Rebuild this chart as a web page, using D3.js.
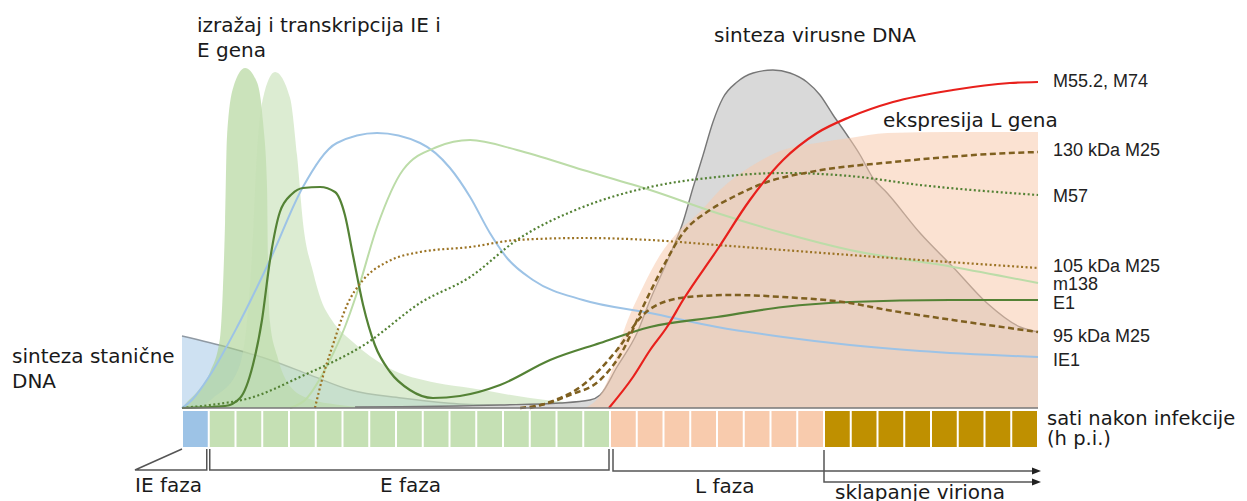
<!DOCTYPE html>
<html>
<head>
<meta charset="utf-8">
<script src="https://cdn.jsdelivr.net/npm/d3@7"></script>
<style>
  body { margin: 0; background: #fff; }
  .lbl { font-family: "DejaVu Sans", Verdana, sans-serif; font-size: 20px; fill: #1a1a1a; }
  .rlbl { font-family: "Liberation Sans", Arial, sans-serif; font-size: 18px; fill: #222; }
  .bracket { fill: none; stroke: #555; stroke-width: 1.5; }
</style>
</head>
<body>
<svg id="svg"></svg>
<script>

// DATA  (t = time slot on the bar, level = relative amount)

var cellDNA   = [[0,18],[1.8,15],[3.3,12],[4.8,8.2],[6.3,4.5],[8.2,2.5],[10,1.2],[12.6,0.5],[14.1,0.2]];
var iePeak    = [[0,0],[0.19,1.5],[0.56,4],[1.05,9],[1.42,17.5],[1.53,30],[1.61,46.5],[1.68,67.5],[1.91,80],
                 [2.36,85],[2.8,81.5],[3.03,71.5],[3.18,55],[3.21,38.25],[3.29,21.5],[3.55,13.25],[3.93,6.5],
                 [4.67,2.5],[5.9,0.75],[7.4,0]];
var ePeak     = [[0.67,0],[1.16,2.5],[2.06,9],[2.43,21.5],[2.62,38.25],[2.8,63.25],[3.03,77.5],[3.48,84],
                 [4.04,77.5],[4.3,63.25],[4.52,46.5],[4.9,34],[5.2,27],[5.6,22],[6.39,16.5],
                 [7.66,10.25],[9.53,6.25],[10.77,5],[13.01,2.5],[15.63,0.75],[17.5,0]];
var virusDNA  = [[6.47,0.25],[11.89,0.75],[14.13,1.25],[15.25,2],[15.63,3.25],[16.26,10.25],[17.01,18.75],
                 [17.5,27],[18.24,38.25],[18.73,46.5],[19.1,55],[19.48,63.25],[19.85,71.5],[20.22,77.5],
                 [20.75,81.5],[21.35,83.75],[22.09,84.5],[22.73,83.75],[23.36,81.5],[23.85,78.25],[24.34,73.25],
                 [24.86,68.25],[25.35,63.25],[25.83,57.5],[26.36,53.75],[27.59,43.75],[28.82,35.25],
                 [30.09,26.25],[31.33,20.25],[32,19]];
var lGenes    = [[15.07,0],[15.63,3.25],[16.07,9.5],[16.49,18.75],[17.23,30.25],[17.87,38.25],[18.5,43.75],
                 [19.36,49],[20.11,54.5],[21.23,60.25],[22.47,64.5],[23.74,66.25],[24.97,67.5],[26.36,68.75],
                 [28.71,69],[32,69]];

var ie1       = [[0,0],[0.37,2],[1.05,8.25],[2.06,20.25],[3.29,37],[4.52,55.25],[5.79,66.25],[7.29,68.75],
                 [8.9,66.25],[10.02,60],[10.77,52.75],[11.51,43.75],[12.15,37.5],[13.12,32],[14.99,27],
                 [17.5,23.75],[20,20.25],[22.47,17.75],[24.97,15.75],[27.59,14.25],[32,12.75]];
var m138      = [[4.04,0],[4.6,2],[5.53,12],[6.09,20.25],[6.54,28.75],[7.29,45.25],[8.26,59.5],[9.53,65.25],
                 [10.77,67],[12.52,64.5],[14.99,59.5],[17.5,54.5],[20,48.75],[22.47,43.75],[24.97,39.5],
                 [28.82,35.25],[32,31.25]];
var e1        = [[0,0],[1.61,0.5],[2.17,2.5],[2.65,10.75],[2.99,22],[3.29,37],[3.66,49],[4.11,53.5],[4.52,55],
                 [5.16,55.25],[5.72,54],[6.09,48.25],[6.39,38.25],[6.77,25.75],[7.21,15.75],[7.78,9],
                 [8.52,4.5],[9.38,2.5],[10.39,3],[11.89,5.75],[13.76,12],[15.63,16.25],[17.5,20.25],
                 [20,22.75],[22.47,25.25],[24.97,26.5],[28.71,27],[32,27]];
var m57       = [[0,0],[1.05,0.75],[2.54,2.5],[4.41,7.75],[6.92,16.25],[8.9,26.25],[10.77,32.75],[12.52,42],
                 [14.99,50.25],[17.5,55.25],[20,57.75],[22.47,58.75],[24.97,58],[27.59,55.75],[32,53.25]];
var m25_105   = [[4.97,0],[5.23,7],[5.64,15.75],[6.17,25.75],[6.77,32],[7.66,36.5],[8.9,39],[10.77,40.25],
                 [12.52,42],[14.99,42.5],[17.5,42],[20,40.75],[22.47,39.5],[24.97,38.25],[27.59,37],[32,35]];
var m25_130   = [[12.64,0],[13.57,1],[14.5,3.25],[15.63,7],[16.49,14.5],[17.23,25.25],[17.98,35.25],
                 [18.73,43.75],[19.74,49.5],[20.6,52.75],[21.87,56.5],[23.48,59],[26.58,61.5],[30.95,63.75],[32,64]];
var m25_95    = [[13.01,0],[13.76,1.5],[14.99,5.75],[16.26,14.5],[17.23,23.25],[18.13,26.75],[19.36,28],
                 [20.6,28.25],[22.47,27.75],[24.97,26.25],[26.36,24.5],[28.82,22],[32,19]];
var m55       = [[15.96,0],[16.86,7.75],[17.5,14.5],[18.13,20.25],[18.73,27],[20,39.5],[21.23,52],[22.47,62],
                 [23.74,68.75],[24.97,72.75],[26.58,76.5],[28.82,79.5],[30.95,81.25],[32,81.5]];

var phaseNames  = ["IE faza", "E faza", "L faza", "sklapanje viriona"];
var phaseCells  = [1, 15, 8, 8];
var phaseColors = ["#9dc3e6", "#c5e0b4", "#f8cbad", "#bf9000"];

var endLabels = ["M55.2, M74", "130 kDa M25", "M57", "105 kDa M25", "m138", "E1", "95 kDa M25", "IE1"];

// SCALES

svg = d3.select("#svg").attr("width", 1247).attr("height", 501);

var x = d3.scaleLinear().domain([0, 32]).range([182, 1038]);
var y = d3.scaleLinear().domain([0, 100]).range([408, 8]);

var area = d3.area().curve(d3.curveMonotoneX)
          .x(d => x(d[0])).y0(y(0)).y1(d => y(d[1]));
var line = d3.line().curve(d3.curveMonotoneX)
          .x(d => x(d[0])).y(d => y(d[1]));

// SHADED PHASES

var areas = [
  {data: cellDNA,  fill: "#bdd7ee", op: 0.75, stroke: "#8f99a3"},
  {data: iePeak,   fill: "#a9d08e", op: 0.6,  stroke: "none"},
  {data: ePeak,    fill: "#c5e0b4", op: 0.6,  stroke: "none"},
  {data: virusDNA, fill: "#d9d9d9", op: 1,    stroke: "#777"},
  {data: lGenes,   fill: "#f8cbad", op: 0.55, stroke: "none"}
];

areas.forEach(function(a){
  svg.append("path").attr("d", area(a.data))
     .attr("fill", a.fill).attr("fill-opacity", a.op);
  if (a.stroke != "none")
    svg.append("path").attr("d", line(a.data))
       .attr("fill", "none").attr("stroke", a.stroke).attr("stroke-width", 1.4);
});

// EXPRESSION CURVES

var curves = [
  {data: ie1,     color: "#9dc3e6", w: 2,   dash: null},
  {data: m138,    color: "#bcdca8", w: 2,   dash: null},
  {data: e1,      color: "#548235", w: 2.2, dash: null},
  {data: m57,     color: "#548235", w: 2.2, dash: "2,2.5"},
  {data: m25_105, color: "#9c7425", w: 2.2, dash: "2,2.5"},
  {data: m25_130, color: "#7f6020", w: 2.5, dash: "6,3.5"},
  {data: m25_95,  color: "#7f6020", w: 2.5, dash: "6,3.5"},
  {data: m55,     color: "#e8201c", w: 2.2, dash: null}
];

svg.selectAll(".curve").data(curves).enter()
   .append("path").attr("class", "curve")
   .attr("d", d => line(d.data))
   .attr("fill", "none")
   .attr("stroke", d => d.color)
   .attr("stroke-width", d => d.w)
   .attr("stroke-dasharray", d => d.dash);

// baseline
svg.append("line").attr("x1", x(0)).attr("x2", x(32))
   .attr("y1", y(0)).attr("y2", y(0))
   .attr("stroke", "#777").attr("stroke-width", 1.5);

// TIME BAR

var cells = [];
var k = 0;
phaseCells.forEach(function(n, p){
  for (var i = 0; i < n; i++) { cells.push({i: k, color: phaseColors[p]}); k++; }
});

svg.selectAll(".cell").data(cells).enter()
   .append("rect").attr("class", "cell")
   .attr("x", d => x(d.i) + 1)
   .attr("y", 411)
   .attr("width", x(1) - x(0) - 2)
   .attr("height", 36)
   .attr("fill", d => d.color);

// brackets
var b = [0, 1, 16, 24, 32].map(v => x(v));
svg.append("path").attr("class", "bracket")
   .attr("d", "M " + b[0] + " 449 L 135 470 L " + (b[1] - 2) + " 470 L " + (b[1] - 2) + " 449");
svg.append("path").attr("class", "bracket")
   .attr("d", "M " + (b[1] + 1) + " 449 L " + (b[1] + 1) + " 470 L " + (b[2] - 1) + " 470 L " + (b[2] - 1) + " 449");
svg.append("path").attr("class", "bracket")
   .attr("d", "M " + (b[2] + 3) + " 449 L " + (b[2] + 3) + " 471 L " + (b[4] - 4) + " 471");
svg.append("path").attr("class", "bracket")
   .attr("d", "M " + (b[3]) + " 450 L " + (b[3]) + " 482 L " + (b[4] - 4) + " 482");
[471, 482].forEach(function(yy){
  svg.append("path").attr("fill", "#222")
     .attr("d", "M " + (b[4] - 6) + " " + (yy - 3.5) + " L " + (b[4] + 3) + " " + yy + " L " + (b[4] - 6) + " " + (yy + 3.5) + " Z");
});

// TEXTS

var phaseLabelPos = [[135, 492], [380, 492], [695, 493], [835, 499]];
svg.selectAll(".phase").data(phaseNames).enter()
   .append("text").attr("class", "lbl phase")
   .attr("x", (d, i) => phaseLabelPos[i][0])
   .attr("y", (d, i) => phaseLabelPos[i][1])
   .text(d => d);

var notes = [
  ["izražaj i transkripcija IE i", 197, 32],
  ["E gena", 197, 57],
  ["sinteza virusne DNA", 714, 42],
  ["ekspresija L gena", 883, 127],
  ["sinteza stanične", 12, 363],
  ["DNA", 12, 388]
];
svg.selectAll(".note").data(notes).enter()
   .append("text").attr("class", "lbl note")
   .attr("x", d => d[1]).attr("y", d => d[2])
   .text(d => d[0]);

// axis caption, a touch smaller so the two lines do not collide
svg.append("text").attr("class", "lbl")
   .attr("x", 1047).attr("y", 425)
   .style("font-size", "19.5px")
   .text("sati nakon infekcije")
   .append("tspan").attr("x", 1047).attr("dy", 20)
   .text("(h p.i.)");

var endLabelY = [87, 156, 202, 272, 290, 309, 342, 366];
svg.selectAll(".end").data(endLabels).enter()
   .append("text").attr("class", "rlbl end")
   .attr("x", 1053)
   .attr("y", (d, i) => endLabelY[i])
   .text(d => d);

</script>
</body>
</html>
